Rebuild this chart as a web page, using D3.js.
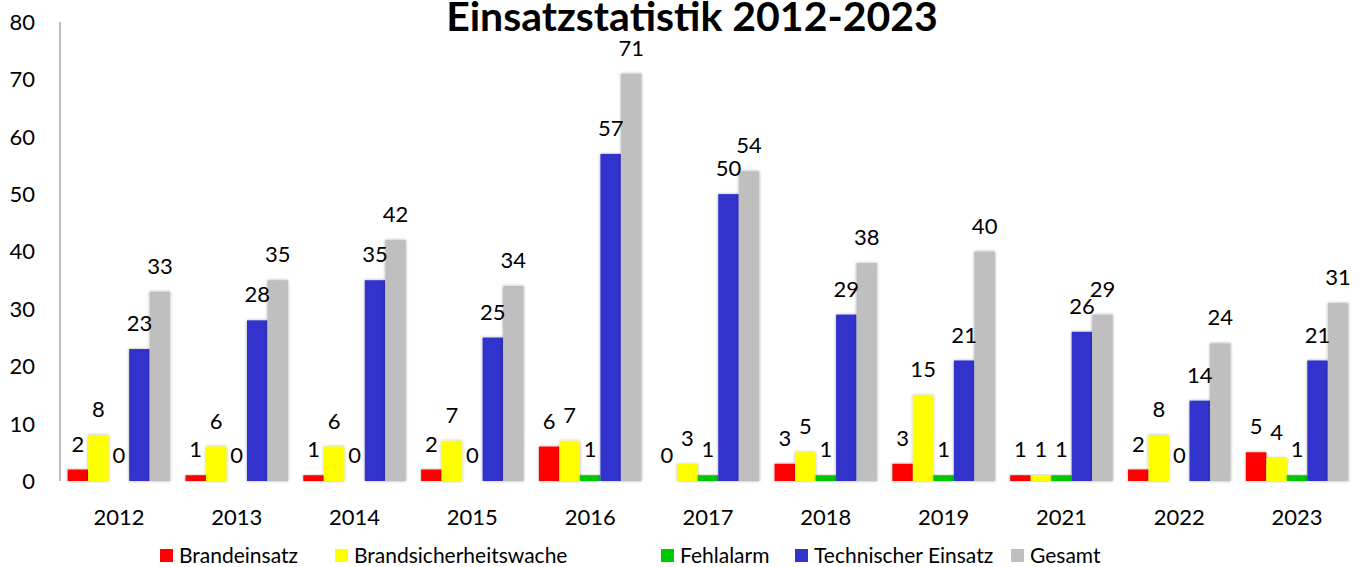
<!DOCTYPE html>
<html>
<head>
<meta charset="utf-8">
<script src="https://d3js.org/d3.v7.min.js"></script>
<style>
    body { margin: 0; background: #fff; }
    #chart { width: 1362px; height: 567px; }
    text { font-family: Lato, "Open Sans", sans-serif; fill: #000; }
</style>
</head>
<body>
<div id="chart"></div>
<script>

// ---- DATA ----
const years = ["2012", "2013", "2014", "2015", "2016", "2017", "2018", "2019", "2021", "2022", "2023"];
const seriesNames = ["Brandeinsatz", "Brandsicherheitswache", "Fehlalarm", "Technischer Einsatz", "Gesamt"];
const brandeinsatz = [2, 1, 1, 2, 6, 0, 3, 3, 1, 2, 5];
const brandsicherheitswache = [8, 6, 6, 7, 7, 3, 5, 15, 1, 8, 4];
const fehlalarm = [0, 0, 0, 0, 1, 1, 1, 1, 1, 0, 1];
const technischerEinsatz = [23, 28, 35, 25, 57, 50, 29, 21, 26, 14, 21];
const gesamt = [33, 35, 42, 34, 71, 54, 38, 40, 29, 24, 31];
const yTicks = [0, 10, 20, 30, 40, 50, 60, 70, 80];

const colors = ["#FF0000", "#FFFF00", "#00C800", "#3333CC", "#BFBFBF"];
const allSeries = [brandeinsatz, brandsicherheitswache, fehlalarm, technischerEinsatz, gesamt];

// table: one row per year
let rows = years.map((y, i) => {
    let row = {year: y};
    seriesNames.forEach((s, j) => { row[s] = allSeries[j][i]; });
    return row;
});

// margin conventions
let margin = {top: 22, right: 6, bottom: 86, left: 60};
let width = 1362 - margin.left - margin.right;
let height = 567 - margin.top - margin.bottom;

let svg = d3.select("#chart").append("svg")
    .attr("width", 1362)
    .attr("height", 567);

// soft shadow for bars
let defs = svg.append("defs");
let filter = defs.append("filter")
    .attr("id", "shadow")
    .attr("x", "-30%").attr("y", "-10%")
    .attr("width", "160%").attr("height", "120%");
filter.append("feDropShadow")
    .attr("dx", 0).attr("dy", 0)
    .attr("stdDeviation", 1.8)
    .attr("flood-color", "#000")
    .attr("flood-opacity", 0.35);

let g = svg.append("g")
    .attr("transform", "translate(" + margin.left + "," + margin.top + ")");

// scales
let x0 = d3.scaleBand()
    .domain(years)
    .range([0, width])
    .paddingInner(0.13)
    .paddingOuter(0.065);

let x1 = d3.scaleBand()
    .domain(seriesNames)
    .range([0, x0.bandwidth()]);

let y = d3.scaleLinear()
    .domain([0, 80])
    .range([height, 0]);

// y axis + labels
g.append("line")
    .attr("x1", 0).attr("x2", 0)
    .attr("y1", 0).attr("y2", height)
    .attr("stroke", "#A6A6A6")
    .attr("stroke-width", 1.5);

g.selectAll(".y-label")
    .data(yTicks)
    .enter().append("text")
    .attr("class", "y-label")
    .attr("x", -25)
    .attr("y", d => y(d))
    .attr("dy", "0.36em")
    .attr("text-anchor", "end")
    .attr("font-size", "22px")
    .text(d => d);

// ---- DRAW BARS ----
let groups = g.selectAll(".year")
    .data(rows)
    .enter().append("g")
    .attr("class", "year")
    .attr("transform", d => "translate(" + x0(d.year) + ",0)");

groups.selectAll("rect")
    .data(d => seriesNames.map((s, j) => ({key: s, value: d[s], color: colors[j]})))
    .enter().append("rect")
    .attr("x", d => x1(d.key))
    .attr("y", d => y(d.value))
    .attr("width", x1.bandwidth())
    .attr("height", d => height - y(d.value))
    .attr("fill", d => d.color)
    .attr("filter", d => d.value > 0 ? "url(#shadow)" : null);

groups.selectAll(".value")
    .data(d => seriesNames.map(s => ({key: s, value: d[s]})))
    .enter().append("text")
    .attr("class", "value")
    .attr("x", d => x1(d.key) + x1.bandwidth() / 2)
    .attr("y", d => y(d.value) - 18)
    .attr("text-anchor", "middle")
    .attr("font-size", "22px")
    .text(d => d.value);

// x axis
g.append("line")
    .attr("x1", 0).attr("x2", width)
    .attr("y1", height).attr("y2", height)
    .attr("stroke", "#A6A6A6")
    .attr("stroke-width", 1.5)
    .attr("filter", "url(#shadow)");

g.selectAll(".x-label")
    .data(years)
    .enter().append("text")
    .attr("class", "x-label")
    .attr("x", d => x0(d) + x0.bandwidth() / 2)
    .attr("y", height + 44)
    .attr("text-anchor", "middle")
    .attr("font-size", "22px")
    .text(d => d);

// title
svg.append("text")
    .attr("x", 692)
    .attr("y", 31)
    .attr("text-anchor", "middle")
    .attr("font-size", "41px")
    .attr("font-weight", "bold")
    .text("Einsatzstatistik 2012-2023");

// legend
let legendX = [160, 335, 661, 795, 1011];
let legend = svg.selectAll(".legend")
    .data(seriesNames)
    .enter().append("g")
    .attr("class", "legend")
    .attr("transform", (d, i) => "translate(" + legendX[i] + ",549)");

legend.append("rect")
    .attr("width", 13)
    .attr("height", 13)
    .attr("fill", (d, i) => colors[i]);

legend.append("text")
    .attr("x", 19)
    .attr("y", 14)
    .attr("font-size", "21px")
    .text(d => d);

</script>
</body>
</html>
